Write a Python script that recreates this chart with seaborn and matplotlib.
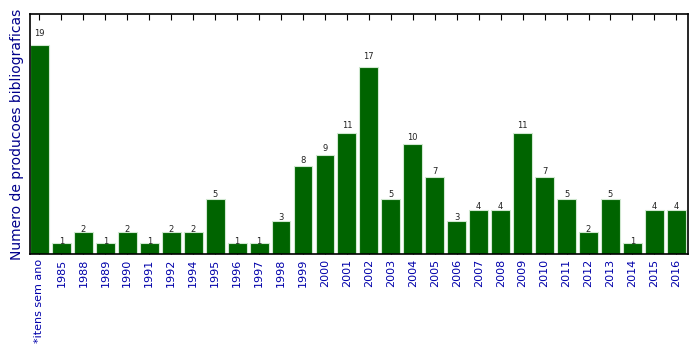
import pandas as pd
import matplotlib.pyplot as plt
import seaborn as sns

anos = ["*itens sem ano", "1985", "1988", "1989", "1990", "1991", "1992", "1994", "1995",
        "1996", "1997", "1998", "1999", "2000", "2001", "2002", "2003", "2004", "2005",
        "2006", "2007", "2008", "2009", "2010", "2011", "2012", "2013", "2014", "2015", "2016"]
producoes = [19, 1, 2, 1, 2, 1, 2, 2, 5, 1, 1, 3, 8, 9, 11, 17, 5, 10, 7, 3, 4, 4, 11, 7,
             5, 2, 5, 1, 4, 4]

df = pd.DataFrame({"ano": anos, "n": producoes})

sns.set_style("white")
plt.rcParams["font.family"] = ["DejaVu Sans"]

fig = plt.figure(figsize=(6.99, 3.54), dpi=100)
ax = fig.add_axes([30 / 699, 100 / 354, 658 / 699, 240 / 354])

sns.barplot(data=df, x="ano", y="n", color="#006400", saturation=1, width=0.86,
            edgecolor="#d0e8d0", linewidth=0.8, ax=ax)

# rotulos a 1.05*altura, como no autolabel classico
for i, v in enumerate(producoes):
    ax.text(i, 1.05 * v - 0.1, str(v), ha="center", va="baseline", fontsize=6, color="#222222")

ax.set_xlim(-0.43, 29.53)
ax.set_ylim(0, 21.85)
ax.set_yticks([])
ax.set_xlabel("")
ax.set_ylabel("Numero de producoes bibliograficas", color="#00008b", fontsize=10)
ax.tick_params(axis="x", direction="in", length=4, top=True, bottom=True,
               labelrotation=90, labelsize=8, labelcolor="#0000aa", color="black")
for s in ax.spines.values():
    s.set_color("black")
    s.set_linewidth(1.2)

fig.savefig("out.png", dpi=100)
